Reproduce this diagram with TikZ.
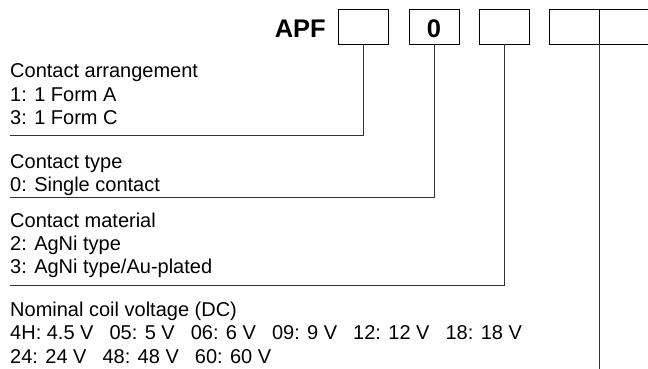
\documentclass[tikz,border=0pt]{standalone}
\usepackage{fontspec}
\setmainfont{Liberation Sans}
\begin{document}
\begin{tikzpicture}[x=1pt,y=-1pt,
  codebox/.style={draw=black, line width=1pt, minimum width=50pt, minimum height=35pt, inner sep=0pt, outer sep=0pt},
  desc/.style={anchor=base west, inner sep=0pt, font=\fontsize{20}{23}\selectfont},
  big/.style={inner sep=0pt, font=\fontsize{25.5}{28}\selectfont\bfseries},
  lead/.style={draw=black!80, line width=1pt}]
\useasboundingbox (0,0) rectangle (648,369);
% code boxes
\node[codebox] (b1) at (363.7,26.7) {};
\node[codebox] (b2) at (434,26.7) {};
\node[codebox] (b3) at (504,26.7) {};
\node[codebox] (b4) at (574,26.7) {};
\node[codebox] (b5) at (624,26.7) {};
\node[big, anchor=base east] (apf) at (326,37.5) {APF};
\node[big, anchor=base] (zero) at (b2.center |- 0,37.5) {0};
% descriptions
\node[desc] (t11) at (10,77.5) {Contact arrangement};
\node[desc] (t12) at (10,101) {1: 1 Form A};
\node[desc] (t13) at (10,124.5) {3: 1 Form C};
\node[desc] (t21) at (10,168) {Contact type};
\node[desc] (t22) at (10,191) {0: Single contact};
\node[desc] (t31) at (10,227) {Contact material};
\node[desc] (t32) at (10,250.3) {2: AgNi type};
\node[desc] (t33) at (10,273.6) {3: AgNi type/Au-plated};
\node[desc] (t41) at (10,316) {Nominal coil voltage (DC)};
\node[desc] (t42) at (10,339.5) {4H: 4.5 V\hspace{16pt}05: 5 V\hspace{16pt}06: 6 V\hspace{16pt}09: 9 V\hspace{16pt}12: 12 V\hspace{16pt}18: 18 V};
\node[desc] (t43) at (10,363) {24: 24 V\hspace{16pt}48: 48 V\hspace{16pt}60: 60 V};
% leader lines
\coordinate (e1) at (10,135);
\coordinate (e2) at (10,197);
\coordinate (e3) at (10,285.5);
\coordinate (e4) at (b4.east |- 0,369);
\draw[lead] (b1.south) |- (e1);
\draw[lead] (b2.south) |- (e2);
\draw[lead] (b3.south) |- (e3);
\draw[lead] (b4.south east) -- (e4);
\end{tikzpicture}
\end{document}
